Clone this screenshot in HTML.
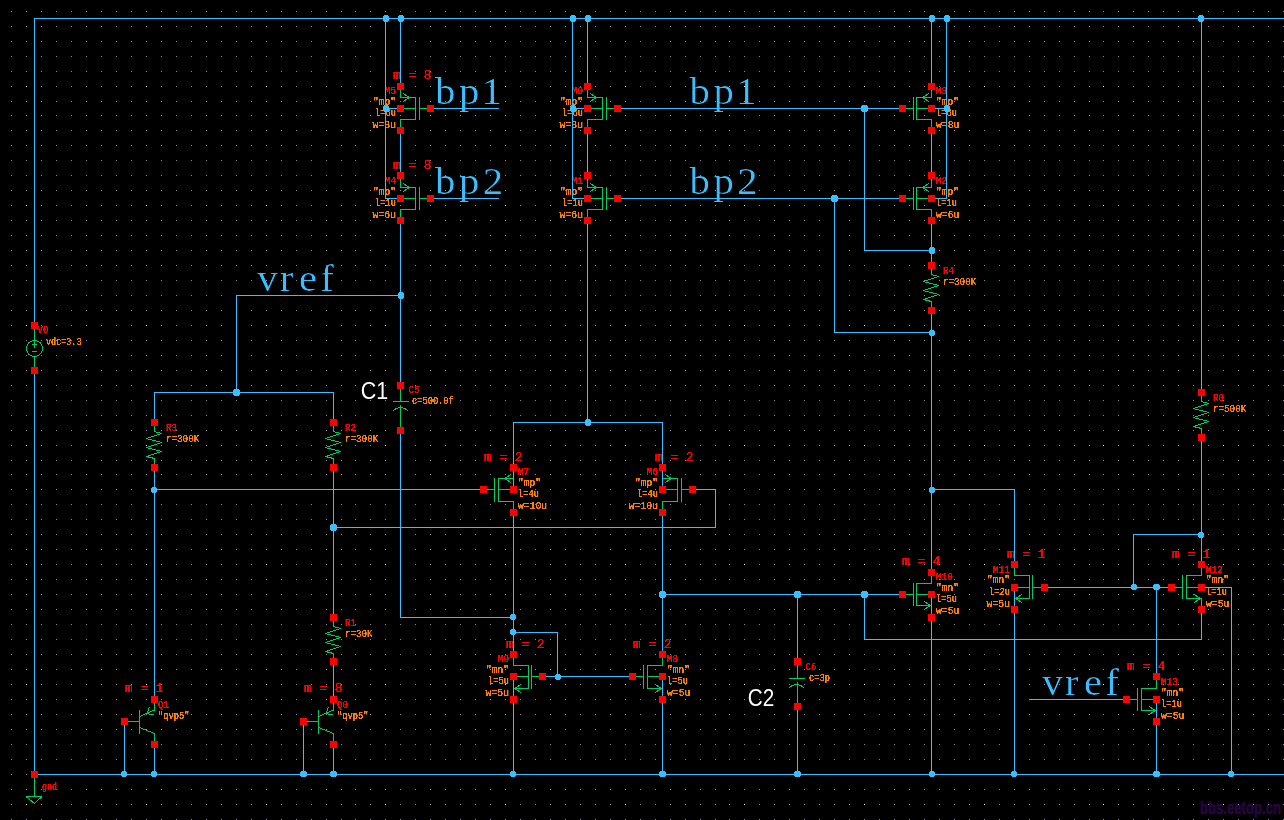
<!DOCTYPE html>
<html><head><meta charset="utf-8"><title>bandgap schematic</title>
<style>
html,body{margin:0;padding:0;background:#000;}
body{width:1284px;height:820px;overflow:hidden;}
svg{display:block;}
text{font-family:"Liberation Mono",monospace;}
.r{font-size:10px;fill:#ff0000;}
.o{font-size:10px;fill:#ff8000;}
.R{font-size:13.3px;fill:#ff0000;}
.big{font-family:"Liberation Serif",serif;font-size:37px;fill:#39bfff;}
.ann{font-family:"Liberation Sans",sans-serif;font-size:23.5px;fill:#fff;}
.wm{font-family:"Liberation Sans",sans-serif;font-size:18px;font-weight:bold;fill:#2a0540;stroke:#2a0540;stroke-width:0.6px;}
</style></head><body>
<svg width="1284" height="820" viewBox="0 0 1284 820">
<rect width="1284" height="820" fill="#000"/>
<text class="wm" x="1200" y="813.5" textLength="81" lengthAdjust="spacingAndGlyphs">bbs.eetop.cn</text>
<defs><filter id="thin" filterUnits="userSpaceOnUse" x="0" y="0" width="1284" height="820"><feOffset in="SourceGraphic" dx="0.25" dy="0" result="a"/><feOffset in="SourceGraphic" dx="-0.25" dy="0" result="b"/><feComposite in="a" in2="b" operator="in"/></filter><filter id="crisp" filterUnits="userSpaceOnUse" x="0" y="0" width="1284" height="820"><feComponentTransfer><feFuncA type="linear" slope="5" intercept="-0.9"/></feComponentTransfer></filter></defs>
<defs><path id="gr" d="M11,0h1m14,0h1m14,0h1m14,0h1m14,0h1m14,0h1m14,0h1m14,0h1m14,0h1m14,0h1m14,0h1m14,0h1m14,0h1m14,0h1m14,0h1m14,0h1m14,0h1m14,0h1m14,0h1m14,0h1m14,0h1m14,0h1m14,0h1m13,0h1m14,0h1m14,0h1m14,0h1m14,0h1m14,0h1m14,0h1m14,0h1m14,0h1m14,0h1m14,0h1m14,0h1m14,0h1m14,0h1m14,0h1m14,0h1m14,0h1m14,0h1m14,0h1m14,0h1m14,0h1m14,0h1m14,0h1m14,0h1m14,0h1m13,0h1m14,0h1m14,0h1m14,0h1m14,0h1m14,0h1m14,0h1m14,0h1m14,0h1m14,0h1m14,0h1m14,0h1m14,0h1m14,0h1m14,0h1m14,0h1m14,0h1m14,0h1m14,0h1m14,0h1m14,0h1m14,0h1m14,0h1m14,0h1m14,0h1m13,0h1m14,0h1m14,0h1m14,0h1m14,0h1m14,0h1m14,0h1m14,0h1m14,0h1m14,0h1m14,0h1m14,0h1m14,0h1" stroke="#8c8ca6" stroke-width="1" fill="none" shape-rendering="crispEdges"/></defs>
<g><use href="#gr" y="11.5"/><use href="#gr" y="26.5"/><use href="#gr" y="41.5"/><use href="#gr" y="56.5"/><use href="#gr" y="71.5"/><use href="#gr" y="86.5"/><use href="#gr" y="101.5"/><use href="#gr" y="115.5"/><use href="#gr" y="130.5"/><use href="#gr" y="145.5"/><use href="#gr" y="160.5"/><use href="#gr" y="175.5"/><use href="#gr" y="190.5"/><use href="#gr" y="205.5"/><use href="#gr" y="220.5"/><use href="#gr" y="235.5"/><use href="#gr" y="250.5"/><use href="#gr" y="265.5"/><use href="#gr" y="280.5"/><use href="#gr" y="295.5"/><use href="#gr" y="310.5"/><use href="#gr" y="325.5"/><use href="#gr" y="340.5"/><use href="#gr" y="355.5"/><use href="#gr" y="370.5"/><use href="#gr" y="385.5"/><use href="#gr" y="400.5"/><use href="#gr" y="415.5"/><use href="#gr" y="430.5"/><use href="#gr" y="445.5"/><use href="#gr" y="460.5"/><use href="#gr" y="474.5"/><use href="#gr" y="489.5"/><use href="#gr" y="504.5"/><use href="#gr" y="519.5"/><use href="#gr" y="534.5"/><use href="#gr" y="549.5"/><use href="#gr" y="564.5"/><use href="#gr" y="579.5"/><use href="#gr" y="594.5"/><use href="#gr" y="609.5"/><use href="#gr" y="624.5"/><use href="#gr" y="639.5"/><use href="#gr" y="654.5"/><use href="#gr" y="669.5"/><use href="#gr" y="684.5"/><use href="#gr" y="699.5"/><use href="#gr" y="714.5"/><use href="#gr" y="729.5"/><use href="#gr" y="744.5"/><use href="#gr" y="759.5"/><use href="#gr" y="774.5"/><use href="#gr" y="789.5"/><use href="#gr" y="804.5"/><use href="#gr" y="819.5"/></g>
<path d="M26,86.5h1M146,86.5h1M266,86.5h1M385,86.5h1M505,86.5h1M625,86.5h1M744,86.5h1M864,86.5h1M984,86.5h1M1103,86.5h1M1223,86.5h1M26,205.5h1M146,205.5h1M266,205.5h1M385,205.5h1M505,205.5h1M625,205.5h1M744,205.5h1M864,205.5h1M984,205.5h1M1103,205.5h1M1223,205.5h1M26,325.5h1M146,325.5h1M266,325.5h1M385,325.5h1M505,325.5h1M625,325.5h1M744,325.5h1M864,325.5h1M984,325.5h1M1103,325.5h1M1223,325.5h1M26,445.5h1M146,445.5h1M266,445.5h1M385,445.5h1M505,445.5h1M625,445.5h1M744,445.5h1M864,445.5h1M984,445.5h1M1103,445.5h1M1223,445.5h1M26,564.5h1M146,564.5h1M266,564.5h1M385,564.5h1M505,564.5h1M625,564.5h1M744,564.5h1M864,564.5h1M984,564.5h1M1103,564.5h1M1223,564.5h1M26,684.5h1M146,684.5h1M266,684.5h1M385,684.5h1M505,684.5h1M625,684.5h1M744,684.5h1M864,684.5h1M984,684.5h1M1103,684.5h1M1223,684.5h1M26,804.5h1M146,804.5h1M266,804.5h1M385,804.5h1M505,804.5h1M625,804.5h1M744,804.5h1M864,804.5h1M984,804.5h1M1103,804.5h1M1223,804.5h1" stroke="#fff" stroke-width="1" fill="none" shape-rendering="crispEdges"/>
<g filter="url(#crisp)">
<text class="r" x="396" y="94" text-anchor="end" textLength="11.2" lengthAdjust="spacingAndGlyphs" xml:space="preserve">M5</text>
<text class="o" x="396" y="104.8" text-anchor="end" textLength="22.9" lengthAdjust="spacingAndGlyphs" xml:space="preserve">&quot;mp&quot;</text>
<text class="o" x="396" y="116" text-anchor="end" textLength="20.9" lengthAdjust="spacingAndGlyphs" xml:space="preserve">l=6u</text>
<text class="o" x="396" y="128" text-anchor="end" textLength="23.4" lengthAdjust="spacingAndGlyphs" xml:space="preserve">w=8u</text>
<text class="R" x="393" y="79" textLength="38.5" lengthAdjust="spacingAndGlyphs" xml:space="preserve">m = 8</text>
<text class="r" x="396" y="184" text-anchor="end" textLength="11.2" lengthAdjust="spacingAndGlyphs" xml:space="preserve">M4</text>
<text class="o" x="396" y="194.55" text-anchor="end" textLength="22.9" lengthAdjust="spacingAndGlyphs" xml:space="preserve">&quot;mp&quot;</text>
<text class="o" x="396" y="206" text-anchor="end" textLength="20.9" lengthAdjust="spacingAndGlyphs" xml:space="preserve">l=1u</text>
<text class="o" x="396" y="218" text-anchor="end" textLength="23.4" lengthAdjust="spacingAndGlyphs" xml:space="preserve">w=6u</text>
<text class="R" x="393" y="169" textLength="38.5" lengthAdjust="spacingAndGlyphs" xml:space="preserve">m = 8</text>
<text class="r" x="583" y="94" text-anchor="end" textLength="11.2" lengthAdjust="spacingAndGlyphs" xml:space="preserve">M0</text>
<text class="o" x="583" y="104.8" text-anchor="end" textLength="22.9" lengthAdjust="spacingAndGlyphs" xml:space="preserve">&quot;mp&quot;</text>
<text class="o" x="583" y="116" text-anchor="end" textLength="20.9" lengthAdjust="spacingAndGlyphs" xml:space="preserve">l=6u</text>
<text class="o" x="583" y="128" text-anchor="end" textLength="23.4" lengthAdjust="spacingAndGlyphs" xml:space="preserve">w=8u</text>
<text class="r" x="583" y="184" text-anchor="end" textLength="11.2" lengthAdjust="spacingAndGlyphs" xml:space="preserve">M1</text>
<text class="o" x="583" y="194.55" text-anchor="end" textLength="22.9" lengthAdjust="spacingAndGlyphs" xml:space="preserve">&quot;mp&quot;</text>
<text class="o" x="583" y="206" text-anchor="end" textLength="20.9" lengthAdjust="spacingAndGlyphs" xml:space="preserve">l=1u</text>
<text class="o" x="583" y="218" text-anchor="end" textLength="23.4" lengthAdjust="spacingAndGlyphs" xml:space="preserve">w=6u</text>
<text class="r" x="936" y="94" textLength="11.2" lengthAdjust="spacingAndGlyphs" xml:space="preserve">M3</text>
<text class="o" x="936" y="104.8" textLength="22.9" lengthAdjust="spacingAndGlyphs" xml:space="preserve">&quot;mp&quot;</text>
<text class="o" x="936" y="116" textLength="20.9" lengthAdjust="spacingAndGlyphs" xml:space="preserve">l=6u</text>
<text class="o" x="936" y="128" textLength="23.4" lengthAdjust="spacingAndGlyphs" xml:space="preserve">w=8u</text>
<text class="r" x="936" y="184" textLength="11.2" lengthAdjust="spacingAndGlyphs" xml:space="preserve">M2</text>
<text class="o" x="936" y="194.55" textLength="22.9" lengthAdjust="spacingAndGlyphs" xml:space="preserve">&quot;mp&quot;</text>
<text class="o" x="936" y="206" textLength="20.9" lengthAdjust="spacingAndGlyphs" xml:space="preserve">l=1u</text>
<text class="o" x="936" y="218" textLength="23.4" lengthAdjust="spacingAndGlyphs" xml:space="preserve">w=6u</text>
<text class="r" x="518" y="475" textLength="11.2" lengthAdjust="spacingAndGlyphs" xml:space="preserve">M7</text>
<text class="o" x="518" y="486.23" textLength="22.9" lengthAdjust="spacingAndGlyphs" xml:space="preserve">&quot;mp&quot;</text>
<text class="o" x="518" y="497" textLength="20.9" lengthAdjust="spacingAndGlyphs" xml:space="preserve">l=4u</text>
<text class="o" x="518" y="509" textLength="29.2" lengthAdjust="spacingAndGlyphs" xml:space="preserve">w=10u</text>
<text class="R" x="484" y="461" textLength="38.5" lengthAdjust="spacingAndGlyphs" xml:space="preserve">m = 2</text>
<text class="r" x="658" y="475" text-anchor="end" textLength="11.2" lengthAdjust="spacingAndGlyphs" xml:space="preserve">M6</text>
<text class="o" x="658" y="486.23" text-anchor="end" textLength="22.9" lengthAdjust="spacingAndGlyphs" xml:space="preserve">&quot;mp&quot;</text>
<text class="o" x="658" y="497" text-anchor="end" textLength="20.9" lengthAdjust="spacingAndGlyphs" xml:space="preserve">l=4u</text>
<text class="o" x="658" y="509" text-anchor="end" textLength="29.2" lengthAdjust="spacingAndGlyphs" xml:space="preserve">w=10u</text>
<text class="R" x="655" y="461" textLength="38.5" lengthAdjust="spacingAndGlyphs" xml:space="preserve">m = 2</text>
<text class="r" x="509" y="662" text-anchor="end" textLength="11.2" lengthAdjust="spacingAndGlyphs" xml:space="preserve">M9</text>
<text class="o" x="509" y="673.2" text-anchor="end" textLength="22.9" lengthAdjust="spacingAndGlyphs" xml:space="preserve">&quot;mn&quot;</text>
<text class="o" x="509" y="684" text-anchor="end" textLength="20.9" lengthAdjust="spacingAndGlyphs" xml:space="preserve">l=5u</text>
<text class="o" x="509" y="696" text-anchor="end" textLength="23.4" lengthAdjust="spacingAndGlyphs" xml:space="preserve">w=5u</text>
<text class="R" x="506" y="648" textLength="38.5" lengthAdjust="spacingAndGlyphs" xml:space="preserve">m = 2</text>
<text class="r" x="667" y="662" textLength="11.2" lengthAdjust="spacingAndGlyphs" xml:space="preserve">M8</text>
<text class="o" x="667" y="673.2" textLength="22.9" lengthAdjust="spacingAndGlyphs" xml:space="preserve">&quot;mn&quot;</text>
<text class="o" x="667" y="684" textLength="20.9" lengthAdjust="spacingAndGlyphs" xml:space="preserve">l=5u</text>
<text class="o" x="667" y="696" textLength="23.4" lengthAdjust="spacingAndGlyphs" xml:space="preserve">w=5u</text>
<text class="R" x="633" y="648" textLength="38.5" lengthAdjust="spacingAndGlyphs" xml:space="preserve">m = 2</text>
<text class="r" x="936" y="580" textLength="17" lengthAdjust="spacingAndGlyphs" xml:space="preserve">M10</text>
<text class="o" x="936" y="590.93" textLength="22.9" lengthAdjust="spacingAndGlyphs" xml:space="preserve">&quot;mn&quot;</text>
<text class="o" x="936" y="602" textLength="20.9" lengthAdjust="spacingAndGlyphs" xml:space="preserve">l=5u</text>
<text class="o" x="936" y="614" textLength="23.4" lengthAdjust="spacingAndGlyphs" xml:space="preserve">w=5u</text>
<text class="R" x="902" y="565" textLength="38.5" lengthAdjust="spacingAndGlyphs" xml:space="preserve">m = 4</text>
<text class="r" x="1010" y="573" text-anchor="end" textLength="17" lengthAdjust="spacingAndGlyphs" xml:space="preserve">M11</text>
<text class="o" x="1010" y="583.45" text-anchor="end" textLength="22.9" lengthAdjust="spacingAndGlyphs" xml:space="preserve">&quot;mn&quot;</text>
<text class="o" x="1010" y="595" text-anchor="end" textLength="20.9" lengthAdjust="spacingAndGlyphs" xml:space="preserve">l=2u</text>
<text class="o" x="1010" y="607" text-anchor="end" textLength="23.4" lengthAdjust="spacingAndGlyphs" xml:space="preserve">w=5u</text>
<text class="R" x="1007" y="558" textLength="38.5" lengthAdjust="spacingAndGlyphs" xml:space="preserve">m = 1</text>
<text class="r" x="1206" y="573" textLength="17" lengthAdjust="spacingAndGlyphs" xml:space="preserve">M12</text>
<text class="o" x="1206" y="583.45" textLength="22.9" lengthAdjust="spacingAndGlyphs" xml:space="preserve">&quot;mn&quot;</text>
<text class="o" x="1206" y="595" textLength="20.9" lengthAdjust="spacingAndGlyphs" xml:space="preserve">l=1u</text>
<text class="o" x="1206" y="607" textLength="23.4" lengthAdjust="spacingAndGlyphs" xml:space="preserve">w=5u</text>
<text class="R" x="1172" y="558" textLength="38.5" lengthAdjust="spacingAndGlyphs" xml:space="preserve">m = 1</text>
<text class="r" x="1161" y="685" textLength="17" lengthAdjust="spacingAndGlyphs" xml:space="preserve">M13</text>
<text class="o" x="1161" y="695.64" textLength="22.9" lengthAdjust="spacingAndGlyphs" xml:space="preserve">&quot;mn&quot;</text>
<text class="o" x="1161" y="707" textLength="20.9" lengthAdjust="spacingAndGlyphs" xml:space="preserve">l=1u</text>
<text class="o" x="1161" y="719" textLength="23.4" lengthAdjust="spacingAndGlyphs" xml:space="preserve">w=5u</text>
<text class="R" x="1127" y="670" textLength="38.5" lengthAdjust="spacingAndGlyphs" xml:space="preserve">m = 4</text>
<text class="r" x="166" y="431" textLength="11" lengthAdjust="spacingAndGlyphs" xml:space="preserve">R3</text>
<text class="o" x="166" y="442" textLength="33.2" lengthAdjust="spacingAndGlyphs" xml:space="preserve">r=300K</text>
<text class="r" x="345" y="431" textLength="11" lengthAdjust="spacingAndGlyphs" xml:space="preserve">R2</text>
<text class="o" x="345" y="442" textLength="33.2" lengthAdjust="spacingAndGlyphs" xml:space="preserve">r=300K</text>
<text class="r" x="345" y="626" textLength="11" lengthAdjust="spacingAndGlyphs" xml:space="preserve">R1</text>
<text class="o" x="345" y="637" textLength="27.4" lengthAdjust="spacingAndGlyphs" xml:space="preserve">r=30K</text>
<text class="r" x="943" y="274" textLength="11" lengthAdjust="spacingAndGlyphs" xml:space="preserve">R4</text>
<text class="o" x="943" y="285" textLength="33.2" lengthAdjust="spacingAndGlyphs" xml:space="preserve">r=300K</text>
<text class="r" x="1213" y="401" textLength="11" lengthAdjust="spacingAndGlyphs" xml:space="preserve">R0</text>
<text class="o" x="1213" y="412" textLength="33.2" lengthAdjust="spacingAndGlyphs" xml:space="preserve">r=500K</text>
<text class="r" x="408.5" y="393" textLength="11" lengthAdjust="spacingAndGlyphs" xml:space="preserve">C5</text>
<text class="o" x="412" y="404" textLength="41.8" lengthAdjust="spacingAndGlyphs" xml:space="preserve">c=500.0f</text>
<text class="r" x="805.5" y="670" textLength="11" lengthAdjust="spacingAndGlyphs" xml:space="preserve">C6</text>
<text class="o" x="809" y="681" textLength="20.9" lengthAdjust="spacingAndGlyphs" xml:space="preserve">c=3p</text>
<text class="r" x="158" y="707.5" textLength="11" lengthAdjust="spacingAndGlyphs" xml:space="preserve">Q1</text>
<text class="o" x="158" y="718.5" textLength="31.5" lengthAdjust="spacingAndGlyphs" xml:space="preserve">&quot;qvp5&quot;</text>
<text class="R" x="125" y="692" textLength="38.5" lengthAdjust="spacingAndGlyphs" xml:space="preserve">m = 1</text>
<text class="r" x="337" y="707.5" textLength="11" lengthAdjust="spacingAndGlyphs" xml:space="preserve">Q0</text>
<text class="o" x="337" y="718.5" textLength="31.5" lengthAdjust="spacingAndGlyphs" xml:space="preserve">&quot;qvp5&quot;</text>
<text class="R" x="304" y="692" textLength="38.5" lengthAdjust="spacingAndGlyphs" xml:space="preserve">m = 8</text>
<text class="r" x="37.5" y="333" textLength="11" lengthAdjust="spacingAndGlyphs" xml:space="preserve">V0</text>
<text class="o" x="46" y="345" textLength="35.5" lengthAdjust="spacingAndGlyphs" xml:space="preserve">vdc=3.3</text>
<text class="r" x="42" y="790" textLength="15.1" lengthAdjust="spacingAndGlyphs" xml:space="preserve">gnd</text>
</g>
<path d="M400.5,86.5L400.5,97.5L415.5,97.5L415.5,119.5L400.5,119.5L400.5,130.5M400.5,108.5L415.5,108.5M419.5,97L419.5,120M419.5,108.5L430.5,108.5M403,93.5L409.5,97.5L403,101.5M400.5,175.5L400.5,187.5L415.5,187.5L415.5,209.5L400.5,209.5L400.5,220.5M400.5,198.5L415.5,198.5M419.5,187L419.5,210M419.5,198.5L430.5,198.5M403,183.5L409.5,187.5L403,191.5M587.5,86.5L587.5,97.5L602.5,97.5L602.5,119.5L587.5,119.5L587.5,130.5M587.5,108.5L602.5,108.5M606.5,97L606.5,120M606.5,108.5L617.5,108.5M590,93.5L596.5,97.5L590,101.5M587.5,175.5L587.5,187.5L602.5,187.5L602.5,209.5L587.5,209.5L587.5,220.5M587.5,198.5L602.5,198.5M606.5,187L606.5,210M606.5,198.5L617.5,198.5M590,183.5L596.5,187.5L590,191.5M931.5,86.5L931.5,97.5L916.5,97.5L916.5,119.5L931.5,119.5L931.5,130.5M931.5,108.5L916.5,108.5M913.5,97L913.5,120M913.5,108.5L902.5,108.5M929,93.5L922.5,97.5L929,101.5M931.5,175.5L931.5,187.5L916.5,187.5L916.5,209.5L931.5,209.5L931.5,220.5M931.5,198.5L916.5,198.5M913.5,187L913.5,210M913.5,198.5L902.5,198.5M929,183.5L922.5,187.5L929,191.5M513.5,467.5L513.5,478.5L498.5,478.5L498.5,501.5L513.5,501.5L513.5,512.5M513.5,489.5L498.5,489.5M494.5,478L494.5,502M494.5,489.5L483.5,489.5M511,474.5L504.5,478.5L511,482.5M662.5,467.5L662.5,478.5L677.5,478.5L677.5,501.5L662.5,501.5L662.5,512.5M662.5,489.5L677.5,489.5M681.5,478L681.5,502M681.5,489.5L692.5,489.5M665,474.5L671.5,478.5L665,482.5M513.5,654.5L513.5,665.5L528.5,665.5L528.5,688.5L513.5,688.5L513.5,699.5M513.5,676.5L528.5,676.5M531.5,665L531.5,689M531.5,676.5L542.5,676.5M521,684.5L514.5,688.5L521,692.5M662.5,654.5L662.5,665.5L647.5,665.5L647.5,688.5L662.5,688.5L662.5,699.5M662.5,676.5L647.5,676.5M643.5,665L643.5,689M643.5,676.5L632.5,676.5M655,684.5L661.5,688.5L655,692.5M931.5,572.5L931.5,583.5L916.5,583.5L916.5,605.5L931.5,605.5L931.5,617.5M931.5,594.5L916.5,594.5M913.5,583L913.5,606M913.5,594.5L902.5,594.5M924,601.5L930.5,605.5L924,609.5M1014.5,564.5L1014.5,575.5L1029.5,575.5L1029.5,598.5L1014.5,598.5L1014.5,609.5M1014.5,587.5L1029.5,587.5M1032.5,575L1032.5,599M1032.5,587.5L1044.5,587.5M1022,594.5L1015.5,598.5L1022,602.5M1201.5,564.5L1201.5,575.5L1186.5,575.5L1186.5,598.5L1201.5,598.5L1201.5,609.5M1201.5,587.5L1186.5,587.5M1182.5,575L1182.5,599M1182.5,587.5L1171.5,587.5M1194,594.5L1200.5,598.5L1194,602.5M1156.5,676.5L1156.5,688.5L1141.5,688.5L1141.5,710.5L1156.5,710.5L1156.5,721.5M1156.5,699.5L1141.5,699.5M1137.5,688L1137.5,711M1137.5,699.5L1126.5,699.5M1149,706.5L1155.5,710.5L1149,714.5M154.5,422.5L154.5,431.5L161.5,433.5L146.5,438.5L161.5,442.5L146.5,447.5L161.5,451.5L146.5,456.5L154.5,458.5L154.5,467.5M333.5,422.5L333.5,431.5L340.5,433.5L325.5,438.5L340.5,442.5L325.5,447.5L340.5,451.5L325.5,456.5L333.5,458.5L333.5,467.5M333.5,617.5L333.5,626.5L340.5,628.5L325.5,633.5L340.5,637.5L325.5,642.5L340.5,646.5L325.5,651.5L333.5,653.5L333.5,661.5M931.5,265.5L931.5,274.5L938.5,276.5L923.5,281.5L938.5,285.5L923.5,290.5L938.5,294.5L923.5,299.5L931.5,301.5L931.5,310.5M1201.5,392.5L1201.5,401.5L1208.5,403.5L1193.5,408.5L1208.5,412.5L1193.5,417.5L1208.5,421.5L1193.5,426.5L1201.5,428.5L1201.5,437.5M400.5,385.5L400.5,401.5M393,401.5L409,401.5M393,410.9L394.88,409.41L396.75,408.35L398.62,407.71L400.5,407.5L402.38,407.71L404.25,408.35L406.12,409.41L408,410.9M400.5,405L400.5,430.5M797.5,661.5L797.5,678.5M789,678.5L805,678.5M789,687.9L790.88,686.41L792.75,685.35L794.62,684.71L796.5,684.5L798.38,684.71L800.25,685.35L802.12,686.41L804,687.9M797.5,682L797.5,706.5M124.5,721.5L139.5,721.5M139.5,710L139.5,734M154.5,699.5L154.5,710L139.5,716.5M139.5,727.5L154.5,733.5L154.5,744.5M149.5,707L147,713.5L154.5,715.2M303.5,721.5L318.5,721.5M318.5,710L318.5,734M333.5,699.5L333.5,710L318.5,716.5M318.5,727.5L333.5,733.5L333.5,744.5M328.5,707L326,713.5L333.5,715.2M34.5,325.5L34.5,347.5M34.5,356.5L34.5,370.5M34.5,774.5L34.5,796.5M26,796.5L42,796.5L34.5,803.5L26.5,797" stroke="#00cc66" stroke-width="1" fill="none" stroke-linecap="butt" stroke-linejoin="bevel" shape-rendering="crispEdges"/>
<circle cx="34.5" cy="348.5" r="8" stroke="#00cc66" fill="none" stroke-width="1" shape-rendering="crispEdges"/>
<path d="M32,344.5h5M32,351.5h5" stroke="#00cc66" stroke-width="1" fill="none" shape-rendering="crispEdges"/>
<path d="M34.5,325.5L34.5,18.5L1284,18.5M34.5,370.5L34.5,774.5L1284,774.5M385.5,18.5L385.5,198.5L400.5,198.5M385.5,108.5L400.5,108.5M400.5,18.5L400.5,86.5M400.5,130.5L400.5,175.5M400.5,220.5L400.5,385.5M400.5,295.5L236.5,295.5L236.5,392.5M154.5,422.5L154.5,392.5L333.5,392.5L333.5,422.5M154.5,467.5L154.5,699.5M154.5,489.5L483.5,489.5M333.5,467.5L333.5,617.5M333.5,527.5L715.5,527.5L715.5,489.5L692.5,489.5M333.5,661.5L333.5,699.5M333.5,744.5L333.5,774.5M303.5,721.5L303.5,774.5M154.5,744.5L154.5,774.5M124.5,721.5L124.5,774.5M400.5,430.5L400.5,617.5L513.5,617.5M430.5,108.5L498.5,108.5M430.5,198.5L498.5,198.5M572.5,18.5L572.5,198.5L587.5,198.5M572.5,108.5L587.5,108.5M587.5,18.5L587.5,86.5M587.5,130.5L587.5,175.5M587.5,220.5L587.5,422.5M513.5,467.5L513.5,422.5L662.5,422.5L662.5,467.5M513.5,467.5L513.5,489.5M662.5,467.5L662.5,489.5M513.5,512.5L513.5,654.5M513.5,632.5L557.5,632.5L557.5,676.5M542.5,676.5L632.5,676.5M513.5,676.5L513.5,774.5M662.5,512.5L662.5,654.5M662.5,676.5L662.5,774.5M662.5,594.5L902.5,594.5M797.5,594.5L797.5,661.5M797.5,706.5L797.5,774.5M864.5,594.5L864.5,639.5L1201.5,639.5L1201.5,609.5M617.5,108.5L902.5,108.5M864.5,108.5L864.5,250.5L931.5,250.5M617.5,198.5L902.5,198.5M834.5,198.5L834.5,332.5L931.5,332.5M931.5,18.5L931.5,86.5M931.5,130.5L931.5,175.5M931.5,220.5L931.5,265.5M946.5,18.5L946.5,198.5L931.5,198.5M946.5,108.5L931.5,108.5M931.5,310.5L931.5,572.5M931.5,489.5L1014.5,489.5L1014.5,564.5M931.5,594.5L931.5,774.5M1014.5,587.5L1014.5,774.5M1044.5,587.5L1171.5,587.5M1133.5,587.5L1133.5,534.5L1201.5,534.5M1201.5,18.5L1201.5,392.5M1201.5,437.5L1201.5,564.5M1201.5,587.5L1231.5,587.5L1231.5,774.5M1156.5,587.5L1156.5,676.5M1156.5,699.5L1156.5,774.5M1029.5,699.5L1126.5,699.5" stroke="#39bfff" stroke-width="1" fill="none" stroke-linecap="square" shape-rendering="crispEdges"/>
<path d="M384,15h4v1h1v5h-1v1h-4v-1h-1v-5h1zM384,105h4v1h1v5h-1v1h-4v-1h-1v-5h1zM399,15h4v1h1v5h-1v1h-4v-1h-1v-5h1zM399,292h4v1h1v5h-1v1h-4v-1h-1v-5h1zM234,389h5v1h1v5h-1v1h-5v-1h-1v-5h1zM152,487h4v1h1v4h-1v1h-4v-1h-1v-4h1zM331,524h5v1h1v5h-1v1h-5v-1h-1v-5h1zM331,771h5v1h1v4h-1v1h-5v-1h-1v-4h1zM301,771h5v1h1v4h-1v1h-5v-1h-1v-4h1zM152,771h4v1h1v4h-1v1h-4v-1h-1v-4h1zM122,771h4v1h1v4h-1v1h-4v-1h-1v-4h1zM511,614h4v1h1v4h-1v1h-4v-1h-1v-4h1zM571,15h4v1h1v5h-1v1h-4v-1h-1v-5h1zM571,105h4v1h1v5h-1v1h-4v-1h-1v-5h1zM586,15h4v1h1v5h-1v1h-4v-1h-1v-5h1zM586,419h4v1h1v5h-1v1h-4v-1h-1v-5h1zM511,629h4v1h1v4h-1v1h-4v-1h-1v-4h1zM556,674h4v1h1v4h-1v1h-4v-1h-1v-4h1zM511,771h4v1h1v4h-1v1h-4v-1h-1v-4h1zM660,591h5v1h1v5h-1v1h-5v-1h-1v-5h1zM660,771h5v1h1v4h-1v1h-5v-1h-1v-4h1zM795,591h5v1h1v5h-1v1h-5v-1h-1v-5h1zM862,591h5v1h1v5h-1v1h-5v-1h-1v-5h1zM795,771h5v1h1v4h-1v1h-5v-1h-1v-4h1zM862,105h5v1h1v5h-1v1h-5v-1h-1v-5h1zM930,247h4v1h1v5h-1v1h-4v-1h-1v-5h1zM832,195h5v1h1v5h-1v1h-5v-1h-1v-5h1zM930,330h4v1h1v4h-1v1h-4v-1h-1v-4h1zM930,15h4v1h1v5h-1v1h-4v-1h-1v-5h1zM945,15h4v1h1v5h-1v1h-4v-1h-1v-5h1zM945,105h4v1h1v5h-1v1h-4v-1h-1v-5h1zM930,487h4v1h1v4h-1v1h-4v-1h-1v-4h1zM930,771h4v1h1v4h-1v1h-4v-1h-1v-4h1zM1012,771h4v1h1v4h-1v1h-4v-1h-1v-4h1zM1132,584h4v1h1v4h-1v1h-4v-1h-1v-4h1zM1154,584h5v1h1v4h-1v1h-5v-1h-1v-4h1zM1199,532h4v1h1v4h-1v1h-4v-1h-1v-4h1zM1199,15h4v1h1v5h-1v1h-4v-1h-1v-5h1zM1229,771h4v1h1v4h-1v1h-4v-1h-1v-4h1zM1154,771h5v1h1v4h-1v1h-5v-1h-1v-4h1z" fill="#39bfff" shape-rendering="crispEdges"/>
<path d="M397,83h7v7h-7zM397,105h7v7h-7zM397,127h7v7h-7zM427,105h7v7h-7zM397,172h7v7h-7zM397,195h7v7h-7zM397,217h7v7h-7zM427,195h7v7h-7zM584,83h7v7h-7zM584,105h7v7h-7zM584,127h7v7h-7zM614,105h7v7h-7zM584,172h7v7h-7zM584,195h7v7h-7zM584,217h7v7h-7zM614,195h7v7h-7zM928,83h7v7h-7zM928,105h7v7h-7zM928,127h7v7h-7zM899,105h7v7h-7zM928,172h7v7h-7zM928,195h7v7h-7zM928,217h7v7h-7zM899,195h7v7h-7zM510,464h7v7h-7zM510,486h7v7h-7zM510,509h7v7h-7zM480,486h7v7h-7zM659,464h7v7h-7zM659,486h7v7h-7zM659,509h7v7h-7zM689,486h7v7h-7zM510,651h7v7h-7zM510,673h7v7h-7zM510,696h7v7h-7zM539,673h7v7h-7zM659,651h7v7h-7zM659,673h7v7h-7zM659,696h7v7h-7zM629,673h7v7h-7zM928,569h7v7h-7zM928,591h7v7h-7zM928,614h7v7h-7zM899,591h7v7h-7zM1011,561h7v7h-7zM1011,584h7v7h-7zM1011,606h7v7h-7zM1041,584h7v7h-7zM1198,561h7v7h-7zM1198,584h7v7h-7zM1198,606h7v7h-7zM1168,584h7v7h-7zM1153,673h7v7h-7zM1153,696h7v7h-7zM1153,718h7v7h-7zM1123,696h7v7h-7zM151,419h7v7h-7zM151,464h7v7h-7zM330,419h7v7h-7zM330,464h7v7h-7zM330,614h7v7h-7zM330,658h7v7h-7zM928,262h7v7h-7zM928,307h7v7h-7zM1198,389h7v7h-7zM1198,434h7v7h-7zM397,382h7v7h-7zM397,427h7v7h-7zM794,658h7v7h-7zM794,703h7v7h-7zM151,696h7v7h-7zM151,741h7v7h-7zM121,718h7v7h-7zM330,696h7v7h-7zM330,741h7v7h-7zM300,718h7v7h-7zM31,322h7v7h-7zM31,367h7v7h-7zM31,771h7v7h-7z" fill="#ff0000" shape-rendering="crispEdges"/>
<g filter="url(#thin)">
<text class="big" transform="scale(1.1 1)" x="395.45 417.27 437.73" y="104">bp1</text>
<text class="big" transform="scale(1.1 1)" x="395.45 417.27 438.82" y="194">bp2</text>
<text class="big" transform="scale(1.1 1)" x="626.82 648.64 669.09" y="104">bp1</text>
<text class="big" transform="scale(1.1 1)" x="626.82 648.64 670.18" y="194">bp2</text>
<text class="big" transform="scale(1.1 1)" x="233.82 254.36 271.73 291.09" y="291">vref</text>
<text class="big" transform="scale(1.1 1)" x="947.55 968.09 985.45 1004.82" y="695">vref</text>
</g>
<text class="ann" x="360.8" y="399" textLength="27.5" lengthAdjust="spacingAndGlyphs">C1</text>
<text class="ann" x="747.8" y="706" textLength="26.5" lengthAdjust="spacingAndGlyphs">C2</text>
</svg>
</body></html>
